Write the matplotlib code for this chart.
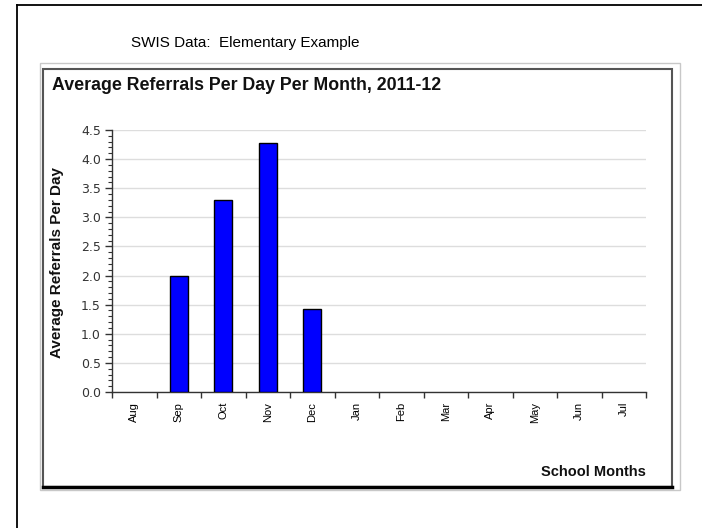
import numpy as np
import matplotlib
matplotlib.use("Agg")
import matplotlib.pyplot as plt
from matplotlib.patches import Rectangle
from matplotlib.lines import Line2D
from matplotlib.ticker import MultipleLocator, FormatStrFormatter

months = ["Aug", "Sep", "Oct", "Nov", "Dec", "Jan", "Feb", "Mar", "Apr", "May", "Jun", "Jul"]
referrals = [0.0, 2.0, 3.3, 4.28, 1.42, 0.0, 0.0, 0.0, 0.0, 0.0, 0.0, 0.0]

W, H = 702, 528
fig = plt.figure(figsize=(W / 100, H / 100), dpi=100)
fig.patch.set_facecolor("white")

def fx(px):
    return px / W

def fy(py):
    return 1 - py / H

# outer page frame (left and top edges)
fig.add_artist(Line2D([fx(17), fx(17)], [fy(5), 0], color="black", lw=1.3))
fig.add_artist(Line2D([fx(17), 1], [fy(5), fy(5)], color="black", lw=1.3))

fig.text(fx(131), fy(43), "SWIS Data:  Elementary Example", fontsize=11,
         family="Liberation Sans", va="center", ha="left")

# chart panel borders
fig.add_artist(Rectangle((fx(40), fy(490)), fx(680) - fx(40), fy(63) - fy(490),
                         fill=False, ec="#c8c8c8", lw=1))
fig.add_artist(Rectangle((fx(43), fy(487)), fx(672) - fx(43), fy(69) - fy(487),
                         fill=False, ec="#555555", lw=1.5))
fig.add_artist(Line2D([fx(43), fx(672)], [fy(487), fy(487)], color="black", lw=2.5))

fig.text(fx(52), fy(90), "Average Referrals Per Day Per Month, 2011-12", fontsize=12.8,
         fontweight="bold", family="Liberation Sans", va="baseline", ha="left", color="#111111")

ax = fig.add_axes([fx(112), fy(392), fx(646) - fx(112), fy(130) - fy(392)])
x = np.arange(len(months))
edges = ["black" if v > 0 else "none" for v in referrals]
ax.bar(x, referrals, width=0.41, color="#0000ff", edgecolor=edges, linewidth=1, zorder=3)

ax.set_xlim(-0.5, len(months) - 0.5)
ax.set_ylim(0, 4.5)
ax.yaxis.set_major_locator(MultipleLocator(0.5))
ax.yaxis.set_minor_locator(MultipleLocator(0.1))
ax.yaxis.set_major_formatter(FormatStrFormatter("%.1f"))
ax.grid(axis="y", color="#dddddd", lw=1, zorder=0)

ax.set_xticks(np.arange(-0.5, len(months), 1.0))
ax.set_xticklabels([])
ax.set_xticks(x, minor=True)
ax.set_xticklabels(months, minor=True, rotation=90, fontsize=8,
                   family="Liberation Sans", va="top")
ax.tick_params(axis="x", which="major", direction="out", length=4, width=1, color="#333333")
ax.tick_params(axis="x", which="minor", length=0, pad=7)
ax.tick_params(axis="y", which="major", direction="out", length=5, width=1,
               color="#333333", labelsize=9, labelcolor="#333333", pad=3)
ax.tick_params(axis="y", which="minor", direction="out", length=3, width=0.8, color="#333333")

for s in ["top", "right"]:
    ax.spines[s].set_visible(False)
for s in ["left", "bottom"]:
    ax.spines[s].set_color("#333333")
    ax.spines[s].set_linewidth(1)

fig.text(fx(57), fy(263), "Average Referrals Per Day", rotation=90, fontsize=11,
         fontweight="bold", family="Liberation Sans", va="center", ha="center", color="#111111")
fig.text(fx(646), fy(472), "School Months", fontsize=10.5, fontweight="bold",
         family="Liberation Sans", va="center", ha="right", color="#111111")

fig.savefig("out.png", dpi=100)
